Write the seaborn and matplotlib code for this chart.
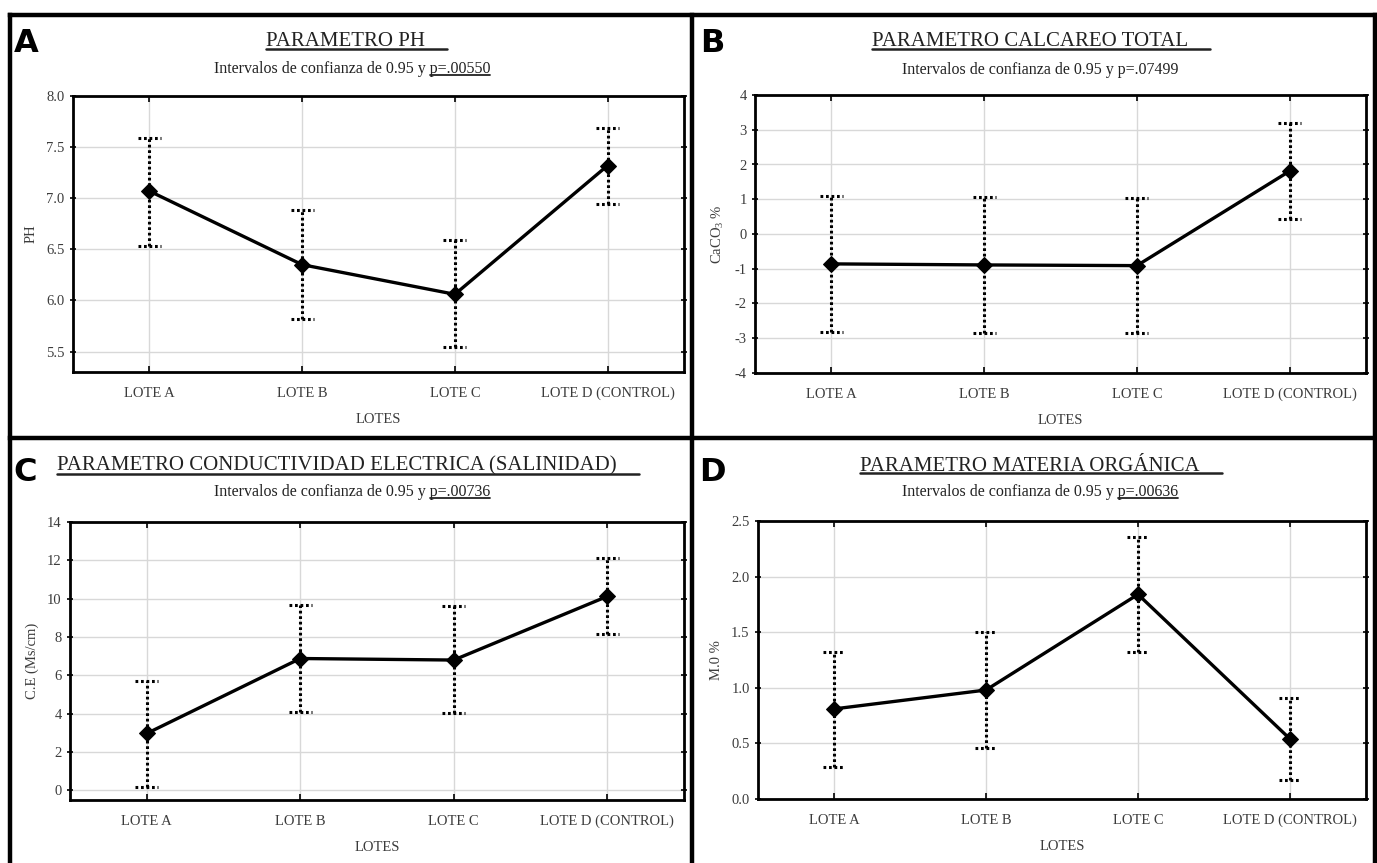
import numpy as np
import seaborn as sns
import matplotlib.pyplot as plt
from matplotlib.lines import Line2D

lotes = ["LOTE A", "LOTE B", "LOTE C", "LOTE D (CONTROL)"]

# means and 95% confidence limits
ph_mean = [7.07, 6.35, 6.06, 7.32]
ph_low = [6.53, 5.82, 5.54, 6.94]
ph_high = [7.59, 6.88, 6.59, 7.69]

cal_mean = [-0.86, -0.89, -0.91, 1.81]
cal_low = [-2.82, -2.84, -2.84, 0.43]
cal_high = [1.09, 1.07, 1.05, 3.20]

ce_mean = [2.97, 6.88, 6.80, 10.12]
ce_low = [0.16, 4.10, 4.05, 8.15]
ce_high = [5.69, 9.68, 9.60, 12.10]

mo_mean = [0.81, 0.98, 1.84, 0.54]
mo_low = [0.29, 0.46, 1.32, 0.17]
mo_high = [1.32, 1.50, 2.36, 0.91]

sns.set_theme(style="whitegrid")
plt.rcParams["font.family"] = ["Liberation Serif", "DejaVu Serif"]
plt.rcParams["mathtext.fontset"] = "custom"
plt.rcParams["mathtext.rm"] = "Liberation Serif"
plt.rcParams["mathtext.it"] = "Liberation Serif:italic"

W, H = 1377, 863
fig = plt.figure(figsize=(W / 100, H / 100), dpi=100)
fig.patch.set_facecolor("white")

txt = "#222222"
grey = "#3c3c3c"


def px_axes(x0, y0, x1, y1):
    return fig.add_axes([x0 / W, 1 - y1 / H, (x1 - x0) / W, (y1 - y0) / H])


panels = [
    dict(box=(73, 96, 684, 372), mean=ph_mean, low=ph_low, high=ph_high,
         ylim=(5.3, 8.0), yticks=np.arange(5.5, 8.01, 0.5), fmt="{:.1f}", ylabel="PH",
         letter="A", title="PARAMETRO PH", pval="p=.00550", pul=True,
         lxy=(26, 43), txy=(345, 42), sxy=(352, 69)),
    dict(box=(755, 95, 1366, 373), mean=cal_mean, low=cal_low, high=cal_high,
         ylim=(-4, 4), yticks=np.arange(-4, 4.1, 1), fmt="{:.0f}", ylabel=r"CaCO$_{3}$ %",
         letter="B", title="PARAMETRO CALCAREO TOTAL", pval="p=.07499", pul=False,
         lxy=(712, 43), txy=(1030, 42), sxy=(1040, 70)),
    dict(box=(70, 522, 684, 800), mean=ce_mean, low=ce_low, high=ce_high,
         ylim=(-0.5, 14), yticks=np.arange(0, 14.1, 2), fmt="{:.0f}", ylabel="C.E (Ms/cm)",
         letter="C", title="PARAMETRO CONDUCTIVIDAD ELECTRICA (SALINIDAD)", pval="p=.00736",
         pul=True, lxy=(25, 472), txy=(337, 466), sxy=(352, 492)),
    dict(box=(758, 521, 1366, 799), mean=mo_mean, low=mo_low, high=mo_high,
         ylim=(0, 2.5), yticks=np.arange(0, 2.51, 0.5), fmt="{:.1f}", ylabel="M.0 %",
         letter="D", title="PARAMETRO MATERIA ORGÁNICA", pval="p=.00636", pul=True,
         lxy=(712, 472), txy=(1030, 466), sxy=(1040, 492)),
]

pos = np.arange(len(lotes))
titles = []
subs = []
for p in panels:
    ax = px_axes(*p["box"])
    ax.set_facecolor("white")
    ax.grid(True, color="#d8d8d8", lw=1.0)
    ax.set_axisbelow(True)

    dots = (0, (0.9, 0.9))
    ax.vlines(pos, p["low"], p["high"], colors="black", linestyles=dots, lw=2.2, zorder=3)
    ax.hlines(p["low"], pos - 0.075, pos + 0.075, colors="black", linestyles=dots, lw=2.2, zorder=3)
    ax.hlines(p["high"], pos - 0.075, pos + 0.075, colors="black", linestyles=dots, lw=2.2, zorder=3)
    sns.lineplot(x=pos, y=p["mean"], ax=ax, color="black", lw=2.4, marker="D",
                 markersize=8, markeredgecolor="black", zorder=4)

    ax.set_xlim(-0.5, 3.5)
    ax.set_ylim(*p["ylim"])
    ax.set_xticks(pos)
    ax.set_xticklabels(lotes, fontsize=10.5, color=grey, va="baseline")
    ax.set_yticks(p["yticks"])
    ax.set_yticklabels([p["fmt"].format(v) for v in p["yticks"]], fontsize=10.5, color=grey)
    ax.set_xlabel("LOTES", fontsize=10.5, color=grey, labelpad=9)
    ax.set_ylabel(p["ylabel"], fontsize=10.5, color=grey, labelpad=6)
    ax.tick_params(axis="x", direction="in", length=4, width=1.2, top=True, bottom=True,
                   pad=18, color="black")
    ax.tick_params(axis="y", direction="inout", length=4, width=1.2, left=True, right=True,
                   pad=4, color="black")
    for s in ax.spines.values():
        s.set_color("black")
        s.set_linewidth(2)

    fig.text(p["lxy"][0] / W, 1 - p["lxy"][1] / H, p["letter"], fontsize=23,
             fontweight="heavy", family=["DejaVu Sans"], ha="center", va="center", color="black")
    t = fig.text(p["txy"][0] / W, 1 - p["txy"][1] / H, p["title"], fontsize=15,
                 ha="center", va="center", color=txt)
    s = fig.text(p["sxy"][0] / W, 1 - p["sxy"][1] / H,
                 "Intervalos de confianza de 0.95 y " + p["pval"], fontsize=11.5,
                 ha="center", va="center", color=txt)
    titles.append(t)
    subs.append((s, p["pval"], p["pul"]))

# underline the titles and the p values
fig.canvas.draw()
r = fig.canvas.get_renderer()
for t in titles:
    bb = t.get_window_extent(r)
    y = bb.y0 + 2
    fig.add_artist(Line2D([bb.x0 / W, (bb.x1 + 22) / W], [y / H, y / H], color=txt, lw=1.8))
for s, pv, ul in subs:
    if not ul:
        continue
    bb = s.get_window_extent(r)
    tmp = fig.text(0, 0, pv, fontsize=11.5)
    w = tmp.get_window_extent(r).width
    tmp.remove()
    y = bb.y0 + 1.5
    fig.add_artist(Line2D([(bb.x1 - w) / W, bb.x1 / W], [y / H, y / H], color=txt, lw=1.3))

# panel frame
frame = dict(color="black", lw=3.2, solid_capstyle="projecting")
fig.add_artist(Line2D([10 / W, 1375 / W], [1 - 15 / H, 1 - 15 / H], **frame))
fig.add_artist(Line2D([10 / W, 10 / W], [1 - 15 / H, 0], **frame))
fig.add_artist(Line2D([1375 / W, 1375 / W], [1 - 15 / H, 0], **frame))
fig.add_artist(Line2D([692 / W, 692 / W], [1 - 15 / H, 0], **frame))
fig.add_artist(Line2D([10 / W, 1375 / W], [1 - 438 / H, 1 - 438 / H], **frame))

fig.savefig("out.png", dpi=100)
